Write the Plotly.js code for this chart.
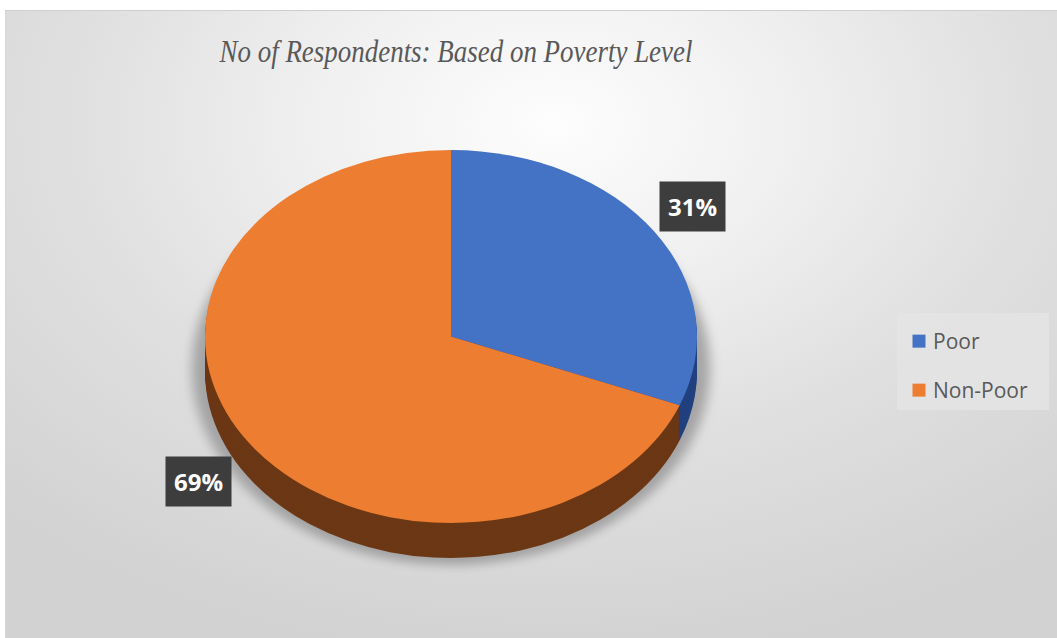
<!DOCTYPE html>
<html>
<head>
<meta charset="utf-8">
<script src="https://cdn.plot.ly/plotly-3.0.1.min.js"></script>
<style>
  html, body { margin:0; padding:0; background:#ffffff; }
  #wrap { position:relative; width:1057px; height:638px; overflow:hidden; background:#ffffff; }
  #bg { position:absolute; left:5px; top:10px; width:1052px; height:628px;
        background: radial-gradient(ellipse 75% 85% at 52% 18%, #fdfdfd 0%, #f0f0f0 30%, #e0e0e0 60%, #d2d2d2 100%);
        border-top:1px solid #cfcfcf; border-left:1px solid #d6d6d6; box-sizing:border-box; }
  #chart { position:absolute; left:0; top:0; width:1057px; height:638px; }
</style>
</head>
<body>
<div id="wrap"><div id="bg"></div><div id="chart"></div></div>
<script>
// ---- data ----
const categories = ["Poor", "Non-Poor"];
const shares = [31, 69];
const topColors = ["#4472C4", "#ED7D31"];
const sideColors = ["#22407F", "#6B3714"];
const chartTitle = "No of Respondents: Based on Poverty Level";

// ---- geometry (pixels) ----
const W = 1057, H = 638;
const cx = 451, cy = 336.5, rx = 246, ry = 186.5, depth = 35, layers = 14;
const squash = ry / rx;

function dom(centerY, r) {
  return {
    x: [(cx - r) / W, (cx + r) / W],
    y: [1 - (centerY + r) / H, 1 - (centerY - r) / H]
  };
}

const total = shares.reduce((a, b) => a + b, 0);
const pctText = shares.map(v => Math.round(v / total * 100) + "%");

const common = {
  type: "pie", labels: categories, values: shares, sort: false,
  direction: "clockwise", rotation: 0, textinfo: "none", hoverinfo: "skip"
};

const shadowPie = Object.assign({}, common, {
  domain: dom(cy + (depth + 4) / squash, rx + 22),
  marker: { colors: ["#9a9a9a", "#9a9a9a"], line: { width: 0 } },
  showlegend: false, opacity: 0.85
});
const sidePies = [];
for (let k = layers; k >= 1; k--) {
  sidePies.push(Object.assign({}, common, {
    domain: dom(cy + (depth * k / layers) / squash, rx),
    marker: { colors: sideColors, line: { width: 0 } },
    showlegend: false
  }));
}
const topPie = Object.assign({}, common, {
  domain: dom(cy, rx),
  marker: { colors: topColors, line: { width: 0 } },
  showlegend: true
});

const layout = {
  width: W, height: H,
  margin: { l: 0, r: 0, t: 0, b: 0 },
  paper_bgcolor: "rgba(0,0,0,0)",
  plot_bgcolor: "rgba(0,0,0,0)",
  title: {
    text: "<i>" + chartTitle + "</i>",
    font: { family: "Liberation Serif, Times New Roman, serif", size: 31, color: "#595959" },
    x: 456 / W, xanchor: "center", xref: "paper",
    y: 1 - 51 / H, yanchor: "middle", yref: "container"
  },
  legend: {
    x: 893 / W, xanchor: "left", y: 1 - 313 / H, yanchor: "top",
    bgcolor: "rgba(228,228,228,0.85)", borderwidth: 0,
    font: { family: "Open Sans, Liberation Sans, sans-serif", size: 21, color: "#595959" },
    itemwidth: 30
  },
  annotations: [
    { x: 692 / W, y: 1 - 207 / H, text: "<b>" + pctText[0] + "</b>" },
    { x: 198 / W, y: 1 - 481 / H, text: "<b>" + pctText[1] + "</b>" }
  ].map(a => Object.assign(a, {
    xref: "paper", yref: "paper", showarrow: false,
    xanchor: "center", yanchor: "middle",
    bgcolor: "#3d3d3d", borderpad: 8,
    font: { family: "Open Sans, Liberation Sans, sans-serif", size: 24, color: "#ffffff" }
  }))
};

Plotly.newPlot("chart", [shadowPie].concat(sidePies, [topPie]), layout, { staticPlot: true, displayModeBar: false }).then(gd => {
  const svg = gd.querySelector(".main-svg");
  const ns = "http://www.w3.org/2000/svg";
  let defs = svg.querySelector("defs");
  if (!defs) { defs = document.createElementNS(ns, "defs"); svg.insertBefore(defs, svg.firstChild); }
  const f = document.createElementNS(ns, "filter");
  f.setAttribute("id", "pieShadowBlur");
  f.setAttribute("x", "-20%"); f.setAttribute("y", "-20%");
  f.setAttribute("width", "140%"); f.setAttribute("height", "140%");
  const blur = document.createElementNS(ns, "feGaussianBlur");
  blur.setAttribute("stdDeviation", "6");
  f.appendChild(blur); defs.appendChild(f);

  const pl = gd.querySelector(".pielayer");
  if (pl) {
    pl.setAttribute("transform", "translate(0," + (cy * (1 - squash)) + ") scale(1," + squash + ")");
    const traces = pl.querySelectorAll("g.trace");
    if (traces[0]) traces[0].setAttribute("filter", "url(#pieShadowBlur)");
  }
  // narrower title, as in the reference
  const t = gd.querySelector(".gtitle");
  if (t) { t.setAttribute("textLength", "473"); t.setAttribute("lengthAdjust", "spacingAndGlyphs"); }

  // spread legend entries like the reference
  const sb = gd.querySelector(".legend .scrollbox");
  if (sb) sb.removeAttribute("clip-path");
  const items = gd.querySelectorAll(".legend .traces");
  const re = /translate\(([-\d.]+)[ ,]+([-\d.]+)\)/;
  if (items.length) {
    const m0 = (items[0].getAttribute("transform") || "").match(re);
    if (m0) {
      const y0 = parseFloat(m0[2]) + 8;
      items.forEach((it, i) => {
        it.setAttribute("transform", "translate(" + m0[1] + "," + (y0 + i * 49) + ")");
      });
    }
  }
  gd.querySelectorAll(".legend .legendpoints").forEach(p => p.setAttribute("transform", "translate(6,0)"));
  gd.querySelectorAll(".legend .legendpoints path").forEach(p => p.setAttribute("d", "M6.5,6.5H-6.5V-6.5H6.5Z"));
  const bg = gd.querySelector(".legend .bg");
  if (bg) { bg.setAttribute("height", 97); bg.setAttribute("width", 152); bg.setAttribute("x", 4); }
});
</script>
</body>
</html>
